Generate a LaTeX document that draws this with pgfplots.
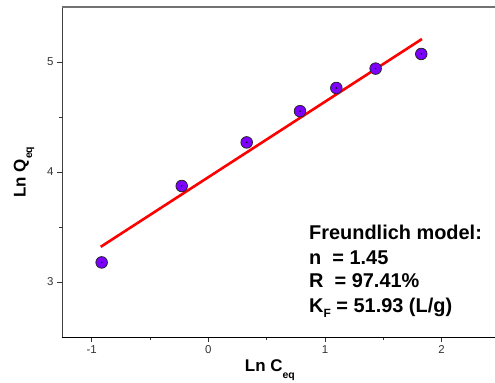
\documentclass[border=0pt]{standalone}
\usepackage{pgfplots}
\pgfplotsset{compat=1.18}
\usepackage{fontspec}
\setmainfont{Liberation Sans}
\definecolor{ptfill}{RGB}{125,0,255}
\newcommand\lsub[1]{\raisebox{-6.5bp}{\fontsize{10.5}{10.5}\selectfont #1}}
\newcommand\tsub[1]{\raisebox{-5bp}{\fontsize{12}{12}\selectfont #1}}
\begin{document}
\begin{tikzpicture}
\useasboundingbox (-62bp,-46bp) rectangle (433bp,337bp);
\begin{axis}[at={(0,0)}, anchor=south west, scale only axis,
  width=433bp, height=330bp,
  xmin=-1.254, xmax=2.457, ymin=2.5, ymax=5.5,
  axis x line*=bottom, axis y line*=left,
  x axis line style={-, black, line width=1bp},
  y axis line style={-, black!75, line width=0.9bp},
  xtick={-1,0,1,2}, xticklabels={-1,0,1,2},
  ytick={3,4,5}, yticklabels={3,4,5},
  minor xtick={-0.5,0.5,1.5}, minor ytick={3.5,4.5},
  tick align=outside, major tick length=5bp, minor tick length=3bp,
  every tick/.style={black!80, line width=0.8bp},
  ticklabel style={font=\fontsize{11.5}{12}\selectfont, text=black!80},
  xlabel={\textbf{Ln C\lsub{eq}}},
  ylabel={\textbf{Ln Q\lsub{eq}}},
  xlabel style={at={(axis description cs:0.48,-0.106)}, anchor=base, font=\fontsize{17}{17}\selectfont},
  ylabel style={at={(axis description cs:-0.084,0.5)}, anchor=base, font=\fontsize{17}{17}\selectfont},
  clip=false,
]
\draw[black!55, line width=2bp] (rel axis cs:0,1) -- (rel axis cs:1,1);
\addplot[red, line width=2.6bp] coordinates {(-0.922,3.320) (1.831,5.209)};
\addplot[only marks, mark=*, mark size=5.8bp, mark options={fill=ptfill, draw=black!85, line width=0.8bp}] coordinates {
(-0.914,3.178) (-0.228,3.873) (0.329,4.269) (0.786,4.553) (1.097,4.764) (1.434,4.940) (1.825,5.073)};
\addplot[only marks, mark=*, mark size=0.5bp, mark options={fill=black, draw=black}] coordinates {
(-0.914,3.178) (-0.228,3.873) (0.329,4.269) (0.786,4.553) (1.097,4.764) (1.434,4.940) (1.825,5.073)};
\begin{scope}[every node/.style={anchor=base west, inner sep=0pt, font=\bfseries\fontsize{20}{20}\selectfont}]
\node at (axis cs:0.863,3.383) {Freundlich model:};
\node at (axis cs:0.863,3.157) {n\ \ = 1.45};
\node at (axis cs:0.863,2.946) {R\ \ = 97.41\%};
\node at (axis cs:0.863,2.719) {K\tsub{F} = 51.93 (L/g)};
\end{scope}
\end{axis}
\end{tikzpicture}
\end{document}
